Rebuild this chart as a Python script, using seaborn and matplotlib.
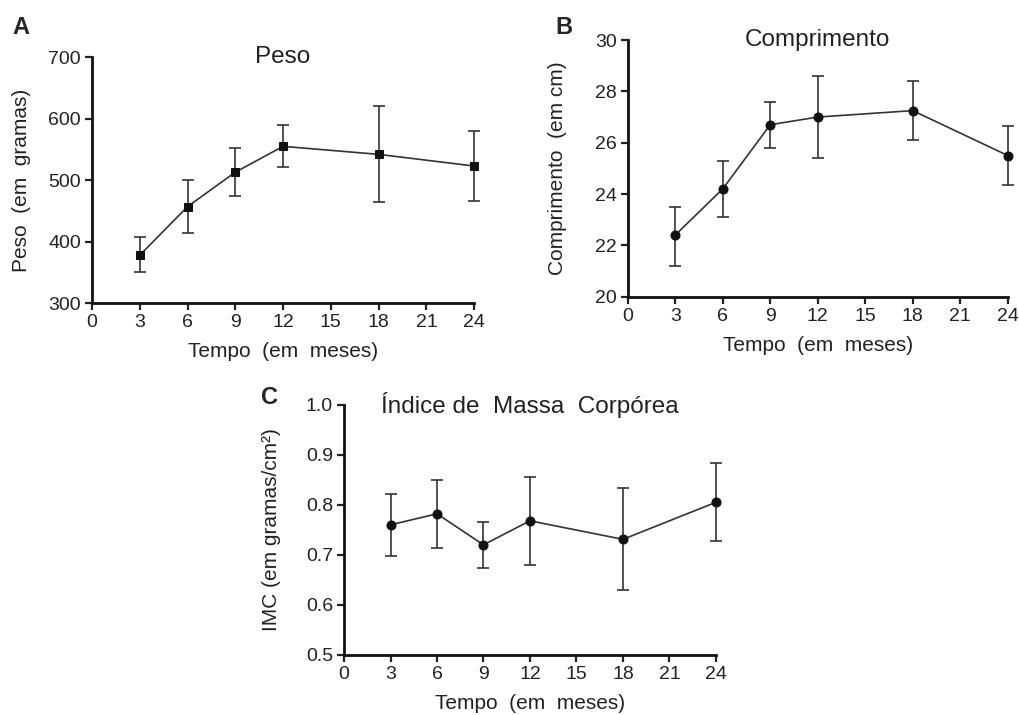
import numpy as np
import pandas as pd
import seaborn as sns
import matplotlib.pyplot as plt

# months on the x axis
meses = [3, 6, 9, 12, 18, 24]

# A - Peso (g), mean and error bar limits
peso = [378, 457, 513, 555, 542, 523]
peso_lo = [351, 414, 475, 521, 465, 466]
peso_hi = [407, 500, 552, 590, 620, 580]

# B - Comprimento (cm)
comp = [22.4, 24.2, 26.7, 27.0, 27.25, 25.5]
comp_lo = [21.2, 23.1, 25.8, 25.4, 26.1, 24.35]
comp_hi = [23.5, 25.3, 27.6, 28.6, 28.4, 26.65]

# C - IMC (g/cm2)
imc = [0.760, 0.782, 0.720, 0.768, 0.731, 0.805]
imc_lo = [0.697, 0.714, 0.673, 0.680, 0.629, 0.727]
imc_hi = [0.822, 0.850, 0.766, 0.855, 0.833, 0.884]

sns.set_style("ticks")
plt.rcParams['font.family'] = ['Liberation Sans', 'DejaVu Sans']

fig = plt.figure(figsize=(10.19, 7.15), dpi=100)
axA = fig.add_axes([0.0903, 0.576, 0.375, 0.344])
axB = fig.add_axes([0.616, 0.585, 0.373, 0.359])
axC = fig.add_axes([0.3376, 0.084, 0.365, 0.350])

panels = [
    (axA, peso, peso_lo, peso_hi, 's', "Peso", "Peso  (em  gramas)", (300, 700), np.arange(300, 701, 100), "A", 12),
    (axB, comp, comp_lo, comp_hi, 'o', "Comprimento", "Comprimento  (em cm)", (20, 30), np.arange(20, 31, 2), "B", 20),
    (axC, imc, imc_lo, imc_hi, 'o', "Índice de  Massa  Corpórea", "IMC (em gramas/cm²)", (0.5, 1.0), np.arange(0.5, 1.01, 0.1), "C", 18),
]

for ax, y, lo, hi, mk, title, ylab, ylim, yticks, letter, ypad in panels:
    df = pd.DataFrame({"mes": meses, "val": y})
    yerr = [np.array(y) - np.array(lo), np.array(hi) - np.array(y)]
    eb = ax.errorbar(meses, y, yerr=yerr, fmt='none', ecolor='#333333',
                     elinewidth=1.2, capsize=4, capthick=1.2)
    for art in eb.lines[1] + eb.lines[2]:
        art.set_clip_on(False)
    sns.lineplot(data=df, x="mes", y="val", ax=ax, color='#333333',
                 linewidth=1.2, marker=mk, markersize=6 if mk == 's' else 6.5,
                 markerfacecolor='#111111', markeredgecolor='#111111', clip_on=False)
    ax.set_xlim(0, 24)
    ax.set_ylim(*ylim)
    ax.set_xticks([0, 3, 6, 9, 12, 15, 18, 21, 24])
    ax.set_yticks(yticks)
    if letter == "C":
        ax.set_yticklabels(["%.1f" % t for t in yticks])
    ax.set_xlabel("Tempo  (em  meses)", fontsize=15, color='#222222', labelpad=8)
    ax.set_ylabel(ylab, fontsize=15, color='#222222', labelpad=ypad)
    ax.tick_params(labelsize=14, colors='#222222', width=1.6, length=5,
                   direction='out', pad=3)
    for s in ['left', 'bottom']:
        ax.spines[s].set_linewidth(2)
        ax.spines[s].set_color('#111111')
    sns.despine(ax=ax)
    ax.text(0.5, 1.0, title, transform=ax.transAxes, ha='center', va='center',
            fontsize=17.5, color='#222222')

fig.text(12 / 1019, 1 - 28 / 715, "A", fontsize=17, fontweight='bold', va='center', ha='left')
fig.text(555 / 1019, 1 - 27 / 715, "B", fontsize=17, fontweight='bold', va='center', ha='left')
fig.text(261 / 1019, 1 - 398 / 715, "C", fontsize=17, fontweight='bold', va='center', ha='left')

plt.savefig("out.png", dpi=100)
plt.close()
